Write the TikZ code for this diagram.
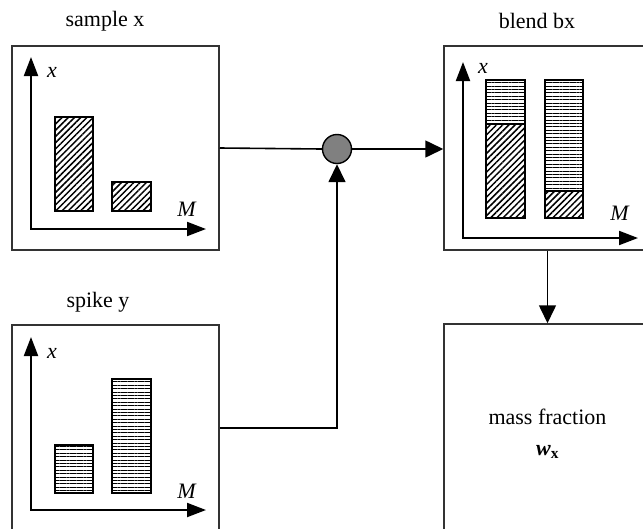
\documentclass[tikz,border=0pt]{standalone}
\usepackage{fontspec}
\setmainfont{Liberation Serif}
\usetikzlibrary{positioning}
\usetikzlibrary{arrows.meta,patterns.meta}

\tikzset{
  panel/.style={draw=black!80, line width=1.5pt, minimum width=207pt, inner sep=0pt},
  axis/.style={line width=2pt, {Triangle[length=19pt,width=14pt]}-{Triangle[length=19pt,width=14pt]}},
  flow/.style={line width=1.6pt, -{Triangle[length=18pt,width=17pt]}},
  hatch/.style={pattern={Lines[angle=45,distance=4.4pt,line width=1.5pt]}},
  stripes/.style={pattern={Lines[angle=0,distance=3.4pt,line width=0.8pt]}},
  bar/.style={draw, line width=1.3pt},
}

\begin{document}
\begin{tikzpicture}[x=1pt, y=-1pt, font=\fontsize{22}{26}\selectfont]
\useasboundingbox (0,0) rectangle (643,528);
\clip (0,0) rectangle (643,528);

% boxes
\node[panel, minimum height=204pt] (sample) at (115.5,148) {};
\node[panel, minimum height=204pt] (blend) at (547.5,148) {};
\node[panel, minimum height=206pt] (spike) at (115.5,428) {};
\node[panel, minimum height=210pt] (mass) at (547.5,429) {};
\node[align=center, below=82pt of mass.north] (wx)
  {mass fraction\\[5pt] \textbf{\textit{w}}\textsubscript{\textbf{x}}};
\node[circle, draw, fill=black!50, line width=1.4pt, minimum size=29pt, inner sep=0pt] (mix) at (337,149) {};

% titles
\node (tsample) at (105,21) {sample x};
\node (tblend) at (537,21) {blend bx};
\node (tspike) at (98,302) {spike y};

% sample x
\draw[axis] (31,57) |- (206,229);
\node at (52,72) {\textit{x}};
\node at (187,209) {\textit{M}};
\draw[bar,hatch] (55,117) rectangle (93,211);
\draw[bar,hatch] (112,182) rectangle (151,211);

% blend bx
\draw[axis] (463,62) |- (638,238);
\node at (483,68) {\textit{x}};
\node at (620,213) {\textit{M}};
\fill[stripes] (486,80) rectangle (525,124);
\fill[hatch] (486,124) rectangle (525,218);
\draw[bar] (486,80) rectangle (525,218);
\draw[line width=1.3pt] (486,124) -- (525,124);
\fill[stripes] (545,80) rectangle (583,191);
\fill[hatch] (545,191) rectangle (583,218);
\draw[bar] (545,80) rectangle (583,218);
\draw[line width=1.3pt] (545,191) -- (583,191);

% spike y
\draw[axis] (31,337) |- (206,510);
\node at (52,353) {\textit{x}};
\node at (187,491) {\textit{M}};
\draw[bar,stripes] (55,445) rectangle (93,493);
\draw[bar,stripes] (112,379) rectangle (151,493);

% connectors
\draw[line width=1.6pt] (sample.east) -- (mix.west);
\draw[flow] (mix.east) -- (mix -| blend.west);
\draw[flow] (spike.east) -| (mix.south);
\draw[flow] (blend.south) -- (mass.north);
\end{tikzpicture}
\end{document}
